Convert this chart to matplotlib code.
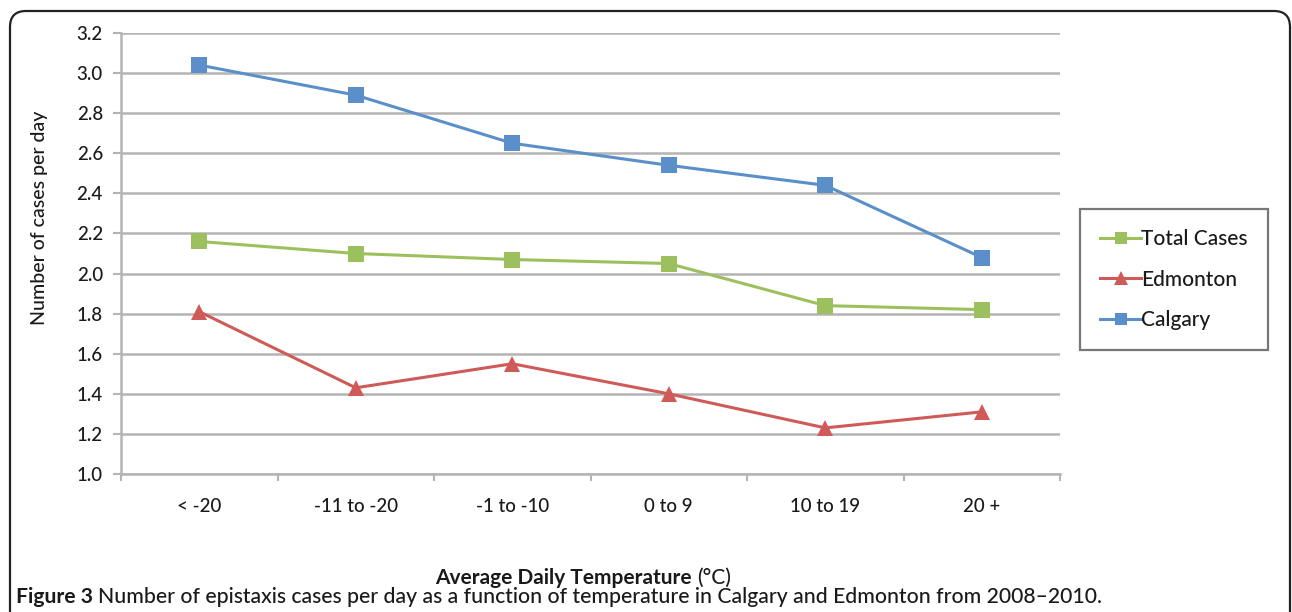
import matplotlib
matplotlib.use("Agg")
import matplotlib.pyplot as plt
from matplotlib.patches import FancyBboxPatch
from matplotlib.ticker import FormatStrFormatter, MultipleLocator
import numpy as np

plt.rcParams['font.family'] = ['Lato', 'DejaVu Sans']
plt.rcParams['font.weight'] = 'medium'

# average daily temperature bands and cases per day
categories = ['< -20', '-11 to -20', '-1 to -10', '0 to 9', '10 to 19', '20 +']
total_cases = [2.16, 2.10, 2.07, 2.05, 1.84, 1.82]
edmonton = [1.81, 1.43, 1.55, 1.40, 1.23, 1.31]
calgary = [3.04, 2.89, 2.65, 2.54, 2.44, 2.08]

green = '#9dc05e'
red = '#cf5b58'
blue = '#5a8fca'
grid_gray = '#b4b4b4'
text_color = '#1a1a1a'

W, H = 1292, 612
fig = plt.figure(figsize=(W / 100, H / 100), dpi=100)
ax = fig.add_axes([121 / W, 1 - 474 / H, (1060 - 121) / W, (474 - 33) / H])

x = np.arange(len(categories))
ax.plot(x, total_cases, color=green, lw=2.2, marker='s', ms=11, mew=0, label='Total Cases')
ax.plot(x, edmonton, color=red, lw=2.2, marker='^', ms=12, mew=0, label='Edmonton')
ax.plot(x, calgary, color=blue, lw=2.2, marker='s', ms=11, mew=0, label='Calgary')

ax.set_xlim(-0.5, len(categories) - 0.5)
ax.set_ylim(1.0, 3.2)
ax.yaxis.set_major_locator(MultipleLocator(0.2))
ax.yaxis.set_major_formatter(FormatStrFormatter('%.1f'))
ax.set_xticks(x)
ax.set_xticklabels(categories)
ax.set_xticks(np.arange(-0.5, len(categories)), minor=True)

ax.grid(axis='y', color=grid_gray, lw=1.8)
ax.set_axisbelow(True)
for side in ['top', 'right']:
    ax.spines[side].set_visible(False)
for side in ['left', 'bottom']:
    ax.spines[side].set_color(grid_gray)
    ax.spines[side].set_linewidth(1.8)

ax.tick_params(axis='y', length=6, width=1.5, color=grid_gray, pad=7,
               labelsize=13.5, labelcolor=text_color)
ax.tick_params(axis='x', which='major', length=0, pad=17, labelsize=13.5,
               labelcolor=text_color)
ax.tick_params(axis='x', which='minor', length=5, width=1.5, color=grid_gray)

leg = fig.legend(loc='upper left', bbox_to_anchor=(1080 / W, 1 - 209 / H),
                 fontsize=15, frameon=True, fancybox=False, handlelength=2.0,
                 handletextpad=0.0, labelspacing=1.0, borderpad=0.95,
                 borderaxespad=0, markerscale=0.85)
leg.get_frame().set_edgecolor('#555555')
leg.get_frame().set_linewidth(1.6)
for t in leg.get_texts():
    t.set_color(text_color)

# y axis title
fig.text(40 / W, 1 - 218 / H, 'Number of cases per day', rotation=90,
         ha='center', va='center', fontsize=14, color=text_color)

# x axis title: bold part followed by the unit
fig.text(697 / W, 1 - 584 / H, 'Average Daily Temperature ', ha='right',
         va='baseline', fontsize=15, fontweight='bold', color=text_color)
fig.text(697 / W, 1 - 584 / H, '(°C)', ha='left', va='baseline', fontsize=15,
         color=text_color)

# caption
cap = fig.text(16 / W, 1 - 603 / H, 'Figure 3', ha='left', va='baseline',
               fontsize=15.2, fontweight='bold', color=text_color)
fig.canvas.draw()
fig.text(cap.get_window_extent().x1 / W + 5 / W, 1 - 603 / H,
         'Number of epistaxis cases per day as a function of temperature in '
         'Calgary and Edmonton from 2008\u20132010.',
         ha='left', va='baseline', fontsize=15.2, color=text_color)

# rounded frame around the figure panel
frame = FancyBboxPatch((10, -40), 1280, H - 11 + 40,
                       boxstyle='round,pad=0,rounding_size=16',
                       transform=None, fill=False, edgecolor='#222222', lw=1.6)
fig.patches.append(frame)

fig.savefig('out.png', dpi=100)
